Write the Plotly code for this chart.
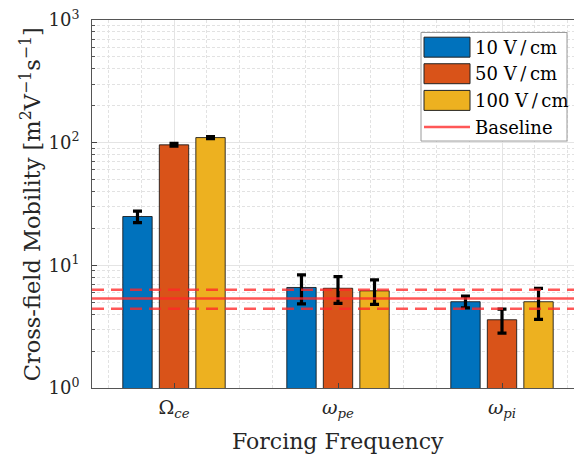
import numpy as np
import plotly.graph_objects as go

# ---- data -------------------------------------------------------------
categories = ["Ω<sub><i>ce</i></sub>", "<i>ω</i><sub><i>pe</i></sub>", "<i>ω</i><sub><i>pi</i></sub>"]
cat_pos = [1, 2, 3]

series_names = ["10 V\u2009/\u2009cm", "50 V\u2009/\u2009cm", "100 V\u2009/\u2009cm"]
series_colors = ["#0072BD", "#D95319", "#EDB120"]

mobility_10 = [25.0, 6.6, 5.05]
mobility_50 = [96.0, 6.5, 3.6]
mobility_100 = [110.0, 6.2, 5.05]

err_10 = [2.7, 1.75, 0.55]
err_50 = [2.5, 1.6, 0.8]
err_100 = [2.0, 1.4, 1.43]

baseline_mean = 5.37
baseline_err = 0.95

ytick_vals = [1, 10, 100, 1000]
ytick_text = ["10<sup>0</sup>", "10<sup>1</sup>", "10<sup>2</sup>", "10<sup>3</sup>"]

# ---- layout geometry helpers (pixel -> paper) -------------------------
W, H = 574, 456
ML, MR, MT, MB = 92, 0, 19.5, 68
PW, PH = W - ML - MR, H - MT - MB


def px(x):
    return (x - ML) / PW


def py(y):
    return (H - MB - y) / PH


FONT = "DejaVu Serif"
TXT = "#262626"
RED = "rgba(255,40,40,0.78)"

fig = go.Figure()

for name, color, vals, errs in zip(series_names, series_colors,
                                   [mobility_10, mobility_50, mobility_100],
                                   [err_10, err_50, err_100]):
    fig.add_trace(go.Bar(
        x=cat_pos, y=vals, name=name,
        marker=dict(color=color, line=dict(color="rgba(20,20,20,0.85)", width=1)),
        error_y=dict(type="data", array=errs, visible=True,
                     color="black", thickness=3.2, width=4.5),
        showlegend=False,
    ))

# baseline with its uncertainty band
fig.add_shape(type="line", xref="paper", yref="y", x0=0, x1=1,
              y0=baseline_mean, y1=baseline_mean,
              line=dict(color=RED, width=2.5), layer="above")
for yv in (baseline_mean + baseline_err, baseline_mean - baseline_err):
    fig.add_shape(type="line", xref="paper", yref="y", x0=0, x1=1, y0=yv, y1=yv,
                  line=dict(color=RED, width=2.5, dash="12px,7px"), layer="above")

# ---- legend box ---------------------------------------------------------
fig.add_shape(type="rect", xref="paper", yref="paper",
              x0=px(421), x1=px(567), y0=py(140.7), y1=py(32),
              fillcolor="white", line=dict(color="#9a9a9a", width=1), layer="above")
row_tops = [36.7, 63.3, 90.0]
annotations = []
for top, color, name in zip(row_tops, series_colors, series_names):
    fig.add_shape(type="rect", xref="paper", yref="paper",
                  x0=px(424), x1=px(470), y0=py(top + 20), y1=py(top),
                  fillcolor=color, line=dict(color="#222", width=1), layer="above")
    annotations.append(dict(xref="paper", yref="paper", x=px(473), y=py(top + 10),
                            text=name, showarrow=False, xanchor="left", yanchor="middle",
                            font=dict(family=FONT, size=18, color="black")))
fig.add_shape(type="line", xref="paper", yref="paper",
              x0=px(424), x1=px(470), y0=py(126.7), y1=py(126.7),
              line=dict(color=RED, width=2.5), layer="above")
annotations.append(dict(xref="paper", yref="paper", x=px(473), y=py(126.7),
                        text="Baseline", showarrow=False, xanchor="left", yanchor="middle",
                        font=dict(family=FONT, size=18, color="black")))

# axis titles
annotations.append(dict(xref="paper", yref="paper", x=px(30), y=py(204),
                        text="Cross-field Mobility [m<sup>2</sup>V<sup>\u22121</sup>s<sup>\u22121</sup>]",
                        textangle=-90, showarrow=False, xanchor="center", yanchor="middle",
                        font=dict(family=FONT, size=22.5, color=TXT)))
annotations.append(dict(xref="x", yref="paper", x=2, y=py(441.7),
                        text="Forcing Frequency", showarrow=False,
                        xanchor="center", yanchor="middle",
                        font=dict(family=FONT, size=22, color=TXT)))

minor_y = [m * 10 ** k for k in range(0, 3) for m in range(2, 10)]
minor_x = [round(v, 2) for v in np.arange(0.6, 3.5, 0.2) if abs(v - round(v)) > 1e-6]

fig.update_layout(
    width=W, height=H,
    margin=dict(l=ML, r=MR, t=MT, b=MB, pad=0),
    paper_bgcolor="white", plot_bgcolor="white",
    barmode="group", bargap=0.332, bargroupgap=0.196,
    font=dict(family=FONT, color=TXT),
    annotations=annotations,
    showlegend=False,
)

fig.update_xaxes(
    range=[0.5, 0.5 + PW / 164.0],
    tickmode="array", tickvals=cat_pos, ticktext=categories,
    tickfont=dict(family=FONT, size=19, color=TXT),
    ticks="inside", ticklen=5, tickcolor="#444",
    showline=True, linecolor="#555", linewidth=1, mirror=True,
    showgrid=True, gridcolor="#e4e4e4", gridwidth=1,
    minor=dict(tickmode="array", tickvals=minor_x, showgrid=True,
               gridcolor="#e2e2e2", griddash="3px,2px", gridwidth=1),
    zeroline=False, ticklabelstandoff=2,
)

fig.update_yaxes(
    type="log", range=[0, 3],
    tickmode="array", tickvals=ytick_vals, ticktext=ytick_text,
    tickfont=dict(family=FONT, size=18, color=TXT),
    ticks="inside", ticklen=5, tickcolor="#444",
    showline=True, linecolor="#555", linewidth=1, mirror=False,
    showgrid=True, gridcolor="#e4e4e4", gridwidth=1,
    minor=dict(tickmode="array", tickvals=minor_y, showgrid=True,
               gridcolor="#e2e2e2", griddash="3px,2px", gridwidth=1,
               ticks="inside", ticklen=3, tickcolor="#555"),
    zeroline=False, ticklabelstandoff=8,
)

fig.write_html("out.html")
